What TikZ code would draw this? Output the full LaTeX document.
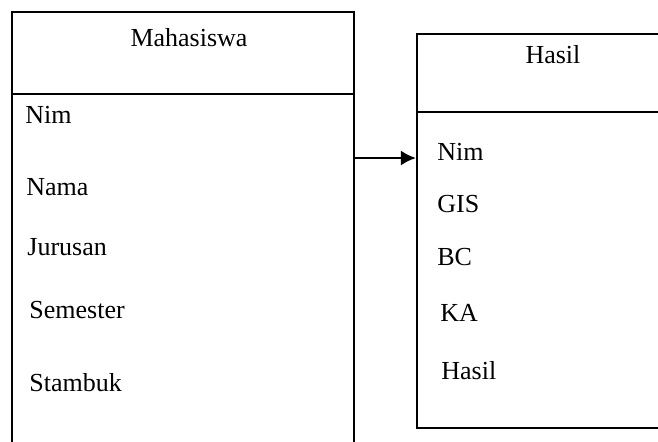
\documentclass[tikz,border=0pt]{standalone}
\usepackage{fontspec}
\setmainfont{Liberation Serif}
\usepackage{tikz}
\usetikzlibrary{arrows.meta}

\begin{document}
\begin{tikzpicture}[x=0.5pt,y=-0.5pt,>={Latex[length=7.5pt,width=7.5pt]},
   every node/.style={font=\fontsize{13}{15}\selectfont},
   tbl/.style={draw,line width=1.1pt,rectangle,inner sep=0pt},
   fld/.style={anchor=west,inner sep=0pt}]
   \useasboundingbox (0,0) rectangle (658,441);
   \clip (0,0) rectangle (658,441);

   % tables
   \node[tbl,minimum width=171pt,minimum height=229pt] (mhs) at (183,241) {};
   \node[tbl,minimum width=136.5pt,minimum height=197pt] (hsl) at (553.5,231) {};
   \draw[line width=1.1pt] (mhs.west |- 0,94) -- (mhs.east |- 0,94) ;
   \draw[line width=1.1pt] (hsl.west |- 0,112) -- (hsl.east |- 0,112) ;

   \node (mhsT) at (189,38) {Mahasiswa};
   \node (hslT) at (553,55) {Hasil};

   \node[fld] (nim) at (25,115) {Nim};
   \node[fld] (nama) at (26,187) {Nama};
   \node[fld] (jur) at (27,247) {Jurusan};
   \node[fld] (sem) at (29,310) {Semester};
   \node[fld] (stb) at (29,383) {Stambuk};

   \node[fld] (hnim) at (437,152) {Nim};
   \node[fld] (gis) at (437,204) {GIS};
   \node[fld] (bc) at (437,257) {BC};
   \node[fld] (ka) at (440,313) {KA};
   \node[fld] (hsil) at (441,371) {Hasil};

   \coordinate (link) at (0,158);
   \draw[->,line width=1.1pt] (mhs.east |- link) -- (hsl.west |- link) ;
\end{tikzpicture}
\end{document}
